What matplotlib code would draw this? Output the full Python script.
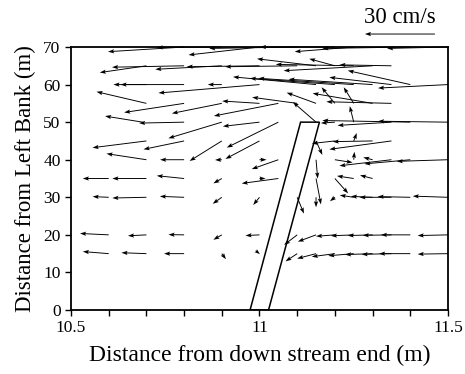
import matplotlib
matplotlib.use('Agg')
import matplotlib.pyplot as plt
from matplotlib.ticker import MultipleLocator

plt.rcParams['font.family'] = 'Liberation Serif'

# measurement points (m) and velocities (cm/s), one line per row of points
px = [10.6, 10.7, 10.8, 10.9, 10.99, 11.1, 11.15, 11.2, 11.25, 11.3, 11.35, 11.4, 11.5,
      10.6, 10.7, 10.8, 10.9, 11.0, 11.1, 11.15, 11.2, 11.25, 11.3, 11.35, 11.4, 11.5,
      10.6, 10.7, 10.8, 10.9, 11.0, 11.1, 11.15, 11.2, 11.25, 11.3, 11.35, 11.4, 11.5,
      10.6, 10.7, 10.8, 10.9, 11.0, 11.05, 11.15, 11.2, 11.25, 11.3,
      10.7, 10.8, 10.9, 11.0, 11.05, 11.15, 11.2, 11.25, 11.3, 11.35, 11.4, 11.5,
      10.7, 10.8, 10.9, 11.0, 11.15, 11.2, 11.25, 11.3, 11.35,
      10.69, 10.8, 10.9, 11.0, 11.05, 11.15, 11.2, 11.25, 11.35, 11.4, 11.5,
      10.7, 10.8, 10.9, 11.0, 11.05, 11.1, 11.15, 11.2, 11.25, 11.3, 11.35,
      10.7, 10.8, 10.9, 11.0, 11.15, 11.2, 11.25, 11.3, 11.35, 11.4, 11.5,
      10.7, 10.8, 10.9, 11.0, 11.1, 11.15, 11.2, 11.25, 11.3, 11.35,
      10.8, 10.9, 11.0, 11.1, 11.2, 11.25, 11.4, 11.5]
py = [15, 15, 15, 15, 15.8, 15, 15, 15, 15, 15, 15, 15, 15,
      20, 20, 20, 20, 20, 20, 20, 20, 20, 20, 20, 20, 20,
      30, 30, 30, 30, 30, 30, 30, 30, 30, 30, 30, 30, 30,
      35, 35, 35, 35, 35, 35, 35, 35, 35, 35,
      40, 40, 40, 40, 40, 40, 40, 40, 40, 40, 40, 40,
      45, 45, 45, 45, 45, 45, 45, 45, 45,
      50, 50, 50, 50, 50, 50, 50, 50, 50, 50, 50,
      55, 55, 55, 55, 55, 55, 55, 55, 55, 55, 55,
      60, 60, 60, 60, 60, 60, 60, 60, 60, 60, 60,
      65, 65, 65, 65, 65, 65, 65, 65, 65, 65,
      70, 70, 70, 70, 70, 70, 70, 70]
pu = [-11.1, -10.7, -8.6, 1.8, 1.8, -5.0, -8.1, -9.9, -10.9, -11.8, -12.8, -13.4, -13.0,
      -12.3, -7.9, -6.7, -3.6, -6.0, -5.6, -7.8, -8.1, -9.8, -10.7, -12.3, -12.6, -13.0,
      -6.9, -14.6, -10.4, -3.9, -2.7, 2.9, 0.0, -2.1, -6.0, -9.3, -13.7, -14.0, -15.1,
      -11.1, -14.6, -11.7, -3.6, 2.6, -15.7, 2.1, 5.7, -7.2, -5.4,
      -17.1, -10.3, -2.9, 3.0, -11.4, 0.7, 7.6, 0.3, -4.0, -22.3, -19.7, -22.0,
      -23.1, -17.4, -13.8, -14.6, 2.7, -9.9, 1.3, -17.1, -26.6,
      -16.1, -19.3, -22.9, -15.7, -22.1, -9.9, -6.0, -1.7, -23.1, -37.7, -30.0,
      -21.4, -25.7, -21.4, -16.0, -27.6, -19.3, -12.6, -5.7, -4.3, -25.7, -27.9,
      -11.1, -30.3, -6.0, -43.3, -35.6, -36.4, -40.9, -36.0, -26.6, -26.8, -30.0,
      -20.0, -30.9, -28.5, -31.2, -30.9, -25.3, -11.0, -33.4, -38.1, -22.3,
      -32.6, -27.9, -30.4, -37.7, -32.1, -25.3, -37.7, -26.1]
pv = [0.9, 0.4, 0.0, -2.4, -1.5, -3.3, -2.1, -1.3, -0.9, -0.4, -0.3, 0.0, -0.2,
      0.6, -0.4, 0.1, -2.1, -0.3, -4.3, -2.9, -0.6, -0.4, -0.3, -0.2, 0.0, -0.3,
      0.3, -0.3, 0.4, -2.8, -3.3, -7.0, -4.3, -1.7, 0.9, 0.4, 0.0, 0.3, 0.5,
      0.0, 0.0, 1.2, -2.1, 0.0, -2.1, -11.1, -6.4, 1.1, 1.4,
      2.6, 0.0, -0.1, 0.0, -4.0, -8.1, -1.2, 3.4, 1.0, -2.6, -1.8, -0.7,
      -2.9, -3.6, -8.6, -7.7, -6.0, -1.1, 3.4, -0.3, -3.6,
      2.6, -0.4, -6.9, -1.8, -10.9, 8.6, -0.4, 6.9, -1.4, 0.7, 0.4,
      5.0, -3.9, -4.3, 1.0, -5.4, 2.6, 4.6, 6.9, 6.9, 4.3, 0.7,
      0.0, 0.0, 0.0, -3.6, 3.3, 2.7, 2.7, 2.3, 3.1, 6.0, -1.5,
      -2.9, -0.6, -1.5, -0.4, -0.4, 3.0, 3.0, 0.6, -2.1, 0.4,
      -2.0, -0.2, -3.4, -0.6, 0.0, -2.0, -0.6, -0.6]

# spur dike outline (m)
wall_x = [10.975, 11.109, 11.159, 11.024]
wall_y = [0, 50, 50, 0]

ref_speed = 30  # cm/s

fig = plt.figure(figsize=(4.65, 3.74), dpi=100)
ax = fig.add_axes([0.1527, 0.1711, 0.8107, 0.7032])

# 30 cm/s drawn 0.70 inch long
q = ax.quiver(px, py, pu, pv, angles='uv', scale_units='inches',
              scale=ref_speed / 0.70, width=0.0025, headwidth=4.5,
              headlength=6.5, headaxislength=5.5, color='black',
              clip_on=False, zorder=3)
ax.quiverkey(q, 0.860, 0.909, ref_speed, '%d cm/s' % ref_speed, angle=180,
             coordinates='figure', labelpos='N', labelsep=0.06,
             fontproperties={'family': 'Liberation Serif', 'size': 16.5})

ax.fill(wall_x, wall_y, facecolor='none', edgecolor='black', lw=1.1, zorder=2)

ax.set_xlim(10.5, 11.5)
ax.set_ylim(0, 70)
ax.set_xticks([10.5, 11, 11.5])
ax.set_xticklabels(['10.5', '11', '11.5'])
ax.xaxis.set_minor_locator(MultipleLocator(0.1))
ax.yaxis.set_major_locator(MultipleLocator(10))
ax.tick_params(which='both', direction='out', length=4, width=1,
               labelsize=12.5, top=False, right=False)
for s in ax.spines.values():
    s.set_linewidth(1.3)

ax.set_xlabel('Distance from down stream end (m)', fontsize=17, labelpad=6)
ax.set_ylabel('Distance from Left Bank (m)', fontsize=16.5, labelpad=5)

fig.savefig('out.png', dpi=100)
